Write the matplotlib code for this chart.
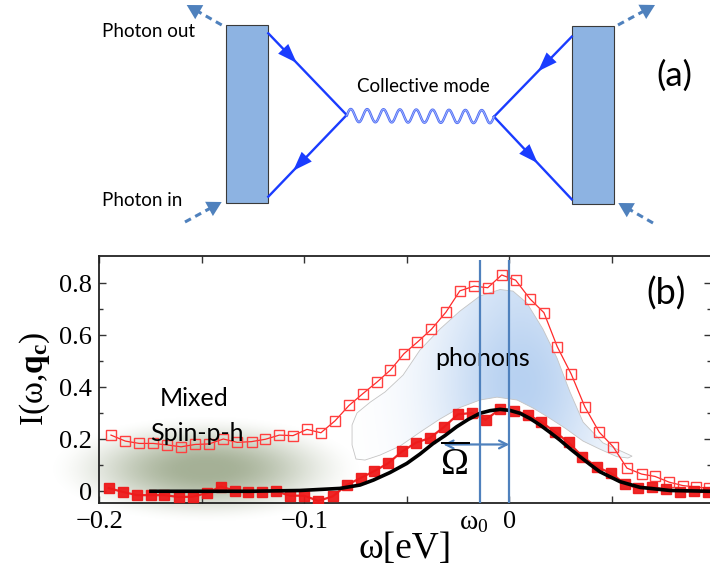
import numpy as np
import matplotlib
matplotlib.use("Agg")
import matplotlib.pyplot as plt
import matplotlib.transforms as mtransforms
from matplotlib.patches import Polygon, Rectangle, FancyArrowPatch

plt.rcParams['font.family'] = ['Liberation Serif', 'DejaVu Serif']
plt.rcParams['mathtext.fontset'] = 'custom'
plt.rcParams['mathtext.rm'] = 'Liberation Serif'
plt.rcParams['mathtext.it'] = 'Liberation Serif:italic'
plt.rcParams['mathtext.bf'] = 'Liberation Serif:bold'

SANS = 'Lato'
STEEL = '#4f81bd'
FERMION = '#1a3cff'

# ---- panel (b) values ----
omega_open = [-0.1943, -0.1873, -0.1805, -0.1737, -0.1668, -0.1601, -0.1533, -0.1465,
              -0.1395, -0.1327, -0.1257, -0.1190, -0.1122, -0.1055, -0.0987, -0.0919,
              -0.0850, -0.0782, -0.0715, -0.0647, -0.0580, -0.0514, -0.0448, -0.0380,
              -0.0309, -0.0241, -0.0172, -0.0105, -0.0037, 0.0031, 0.0101, 0.0169,
              0.0234, 0.0302, 0.0369, 0.0439, 0.0506, 0.0574, 0.0646, 0.0711,
              0.0780, 0.0846, 0.0911, 0.0972]
I_open = [0.216, 0.193, 0.184, 0.184, 0.178, 0.171, 0.180, 0.182,
          0.201, 0.188, 0.191, 0.200, 0.216, 0.214, 0.238, 0.225,
          0.271, 0.330, 0.375, 0.419, 0.466, 0.529, 0.574, 0.623,
          0.689, 0.771, 0.789, 0.783, 0.832, 0.812, 0.740, 0.687,
          0.556, 0.451, 0.324, 0.227, 0.172, 0.089, 0.066, 0.057,
          0.035, 0.022, 0.016, 0.012]

omega_filled = [-0.1954, -0.1883, -0.1816, -0.1749, -0.1682, -0.1613, -0.1544, -0.1475,
                -0.1407, -0.1338, -0.1273, -0.1208, -0.1139, -0.1070, -0.1000, -0.0932,
                -0.0862, -0.0793, -0.0725, -0.0658, -0.0592, -0.0523, -0.0455, -0.0387,
                -0.0319, -0.0250, -0.0183, -0.0116, -0.0045, 0.0021, 0.0089, 0.0157,
                0.0223, 0.0289, 0.0357, 0.0428, 0.0496, 0.0564, 0.0628, 0.0696,
                0.0764, 0.0834, 0.0901, 0.0967]
I_filled = [0.012, -0.003, -0.015, -0.015, -0.015, -0.022, -0.021, -0.007,
            0.018, 0.002, -0.004, -0.002, 0.000, -0.017, -0.017, -0.037,
            -0.020, 0.024, 0.051, 0.078, 0.107, 0.153, 0.187, 0.205,
            0.247, 0.296, 0.301, 0.275, 0.316, 0.310, 0.295, 0.266,
            0.228, 0.188, 0.133, 0.093, 0.070, 0.028, 0.012, 0.016,
            0.007, -0.001, 0.001, -0.004]

omega_fit = [-0.1748, -0.1509, -0.1265, -0.1021, -0.0826, -0.0728, -0.0663, -0.0582,
             -0.0500, -0.0436, -0.0371, -0.0314, -0.0257, -0.0201, -0.0143, -0.0094,
             -0.0045, 0.0003, 0.0052, 0.0101, 0.0150, 0.0198, 0.0247, 0.0296,
             0.0345, 0.0394, 0.0442, 0.0540, 0.0638, 0.0784, 0.0984]
I_fit = [0.0, 0.0, 0.0, 0.003, 0.011, 0.024, 0.043, 0.072,
         0.107, 0.143, 0.184, 0.214, 0.248, 0.276, 0.300, 0.310,
         0.315, 0.311, 0.300, 0.280, 0.255, 0.227, 0.197, 0.164,
         0.133, 0.103, 0.075, 0.037, 0.015, 0.003, 0.0]

omega_0 = -0.0142
omega_bar_left = -0.0322   # left end of the Omega-bar arrow
omega_bar_level = 0.18

# outline of the shaded "phonons" region
phonon_x = [-0.0748, -0.0767, -0.0767, -0.0743, -0.0678, -0.0606, -0.0518, -0.0436,
            -0.0338, -0.0241, -0.0143, -0.0045, 0.0018, 0.0086, 0.0164, 0.0233,
            0.0296, 0.0360, 0.0457, 0.0555, 0.0599, 0.0579, 0.0525, 0.0442,
            0.0360, 0.0272, 0.0189, 0.0116, 0.0038, -0.0060, -0.0143, -0.0241,
            -0.0338, -0.0421, -0.0533, -0.0631, -0.0704]
phonon_y = [0.124, 0.178, 0.255, 0.301, 0.343, 0.382, 0.447, 0.543,
            0.624, 0.693, 0.751, 0.776, 0.770, 0.724, 0.624, 0.512,
            0.382, 0.266, 0.186, 0.151, 0.135, 0.128, 0.133, 0.162,
            0.193, 0.243, 0.285, 0.320, 0.351, 0.362, 0.351, 0.322,
            0.278, 0.235, 0.174, 0.139, 0.120]

# blurred "Mixed Spin-p-h" blob: centre and half sizes
mixed_center = (-0.148, 0.085)
mixed_half = (0.078, 0.21)

XLIM = (-0.2, 0.0984)
YLIM = (-0.044, 0.905)

fig = plt.figure(figsize=(7.1, 5.71), dpi=100)

# ---------------- panel (a): diagram in pixel units ----------------
diag = fig.add_axes([0, 1 - 240 / 571, 1, 240 / 571])
diag.set_xlim(0, 710)
diag.set_ylim(240, 0)
diag.axis('off')

for x0, y0 in [(226, 25), (571.7, 25.7)]:
    diag.add_patch(Rectangle((x0, y0), 42.3, 178.3, fc='#8db3e2', ec='#3a3a3a',
                             lw=0.8, zorder=2))


def head(ax, tip, direction, color, scale=11, hl=1.0, hw=0.4):
    d = np.asarray(direction, float)
    d /= np.hypot(*d)
    tip = np.asarray(tip, float)
    arr = FancyArrowPatch(tip - d * 3, tip,
                          arrowstyle='-|>,head_length=%g,head_width=%g' % (hl, hw),
                          mutation_scale=scale, color=color, lw=0,
                          shrinkA=0, shrinkB=0, zorder=4)
    ax.add_patch(arr)


def fermion(ax, p0, p1, frac):
    p0 = np.asarray(p0, float)
    p1 = np.asarray(p1, float)
    ax.plot([p0[0], p1[0]], [p0[1], p1[1]], color=FERMION, lw=1.7, zorder=3)
    d = p1 - p0
    tip = p0 + d * frac + d / np.hypot(*d) * 7
    head(ax, tip, d, FERMION, scale=14, hl=1.0, hw=0.36)


fermion(diag, (268.3, 33.3), (346.7, 115), 0.30)
fermion(diag, (346.7, 115), (268.3, 196.7), 0.62)
fermion(diag, (571.7, 36.7), (494, 116.7), 0.37)
fermion(diag, (494, 116.7), (571.7, 199.3), 0.50)

# wavy boson line
t = np.linspace(0, 1, 600)
wx = 346.7 + t * (494 - 346.7)
wy = 115.5 + t * 1.2 - 6.5 * np.sin(2 * np.pi * 9 * t)
diag.plot(wx, wy, color='#4d6cf5', lw=1.8, zorder=3)
diag.plot(wx, wy, color='#b8c6ff', lw=0.5, zorder=3)

# dashed photon arrows
for tail, tip in [((221.7, 25), (186.7, 5)), ((185, 222), (221.7, 202)),
                  ((618, 25), (655, 5)), ((653, 223), (618.3, 203))]:
    tail = np.asarray(tail, float)
    tip = np.asarray(tip, float)
    d = tip - tail
    u = d / np.hypot(*d)
    end = tip - u * 6
    diag.plot([tail[0], end[0]], [tail[1], end[1]], color=STEEL, lw=2.2,
              ls=(0, (2.2, 1.6)), zorder=3)
    head(diag, tip, d, STEEL, scale=13, hl=0.8, hw=0.45)

diag.text(101.7, 31.7, 'Photon out', family=SANS, fontsize=13.5, va='center', ha='left')
diag.text(101.7, 200, 'Photon in', family=SANS, fontsize=13.5, va='center', ha='left')
diag.text(356.7, 86, 'Collective mode', family=SANS, fontsize=13.5, va='center', ha='left')
diag.text(656, 76, '(a)', family=SANS, fontsize=25, va='center', ha='left')

# ---------------- panel (b) ----------------
ax = fig.add_axes([99.3 / 710, 1 - 502.7 / 571, (711 - 99.3) / 710, 246.7 / 571])

# blurred green blob
gx, gy = np.meshgrid(np.linspace(-1, 1, 300), np.linspace(-1, 1, 200))
rr = np.sqrt(gx ** 2 + gy ** 2)
s = np.clip((rr - 0.1) / 0.9, 0, 1)
blob = np.zeros((200, 300, 4))
blob[..., :3] = (0.45, 0.52, 0.36)
blob[..., 3] = 0.64 * (1 - s * s * (3 - 2 * s))
cx, cy = mixed_center
hx, hy = mixed_half
ax.imshow(blob, extent=[cx - hx, cx + hx, cy - hy, cy + hy], aspect='auto',
          origin='lower', zorder=0.5, clip_on=False, interpolation='bilinear')

# shaded phonon region with a gradient fill
px0, px1 = min(phonon_x), max(phonon_x)
py0, py1 = min(phonon_y), max(phonon_y)
U, V = np.meshgrid(np.linspace(0, 1, 300), np.linspace(0, 1, 300))
grad = np.zeros((300, 300, 4))
grad[..., :3] = (0.64, 0.77, 0.93)
grad[..., 3] = 0.78 * np.exp(-((U - 0.6) / 0.3) ** 2) * (0.55 + 0.45 * np.exp(-((V - 0.45) / 0.45) ** 2))
im = ax.imshow(grad, extent=[px0, px1, py0, py1], aspect='auto', origin='lower',
               zorder=1, interpolation='bilinear')
poly = Polygon(np.column_stack([phonon_x, phonon_y]), closed=True, fc='none',
               ec='#c4c4c4', lw=0.6, zorder=1.1)
ax.add_patch(poly)
im.set_clip_path(poly)

ax.plot(omega_open, I_open, color='#ff2a2a', lw=0.9, marker='s', ms=6.5,
        mfc='none', mec='#ff4040', mew=1.0, zorder=3)
ax.plot(omega_filled, I_filled, color='#ee1a1a', lw=1.6, marker='s', ms=7.3,
        mfc='#ee1a1a', mec='#ee1a1a', zorder=3, alpha=0.95)
ax.plot(omega_fit, I_fit, color='black', lw=2.6, zorder=3.5)

for xv in (omega_0, 0.0):
    ax.plot([xv, xv], [YLIM[0], 0.889], color=STEEL, lw=1.6, zorder=4,
            solid_capstyle='butt')
ax.annotate('', xy=(omega_bar_left, omega_bar_level), xytext=(0.0, omega_bar_level),
            arrowprops=dict(arrowstyle='<->', color=STEEL, lw=1.6, shrinkA=0,
                            shrinkB=0, mutation_scale=14), zorder=4)
ax.text(-0.0265, 0.105, r'$\overline{\mathrm{Ω}}$', fontsize=27, ha='center',
        va='center', zorder=5)

ax.text(-0.0128, 0.512, 'phonons', family=SANS, fontsize=18, ha='center',
        va='center', zorder=2)
ax.text(-0.1537, 0.355, 'Mixed', family=SANS, fontsize=18, ha='center',
        va='center', zorder=5)
ax.text(-0.1523, 0.224, 'Spin-p-h', family=SANS, fontsize=18, ha='center',
        va='center', zorder=5)
ax.text(0.0765, 0.762, '(b)', family=SANS, fontsize=26, ha='center',
        va='center', zorder=5)

ax.set_xlim(*XLIM)
ax.set_ylim(*YLIM)
ax.set_xticks([-0.2, -0.15, -0.1, -0.05, 0.0, 0.05])
ax.set_xticklabels(['\u22120.2', '', '\u22120.1', '', '0', ''])
ax.set_yticks([0, 0.2, 0.4, 0.6, 0.8])
ax.set_yticklabels(['0', '0.2', '0.4', '0.6', '0.8'])
ax.set_yticks([0.1, 0.3, 0.5, 0.7], minor=True)
ax.tick_params(which='both', direction='in', top=True, right=True,
               labelsize=19, width=1.0, color='#333333')
ax.tick_params(which='major', length=5)
ax.tick_params(which='minor', length=3)
ax.tick_params(axis='x', pad=6)
ax.tick_params(axis='y', pad=5)
for sp in ax.spines.values():
    sp.set_linewidth(1.3)
    sp.set_color('#222222')

trans = mtransforms.blended_transform_factory(ax.transData, ax.transAxes)
ax.text(-0.0172, -0.107, r'$\mathrm{ω}_0$', transform=trans, fontsize=20,
        ha='center', va='baseline')

ax.set_xlabel('ω[eV]', fontsize=27)
ax.xaxis.set_label_coords(0.5, -0.115)
ax.set_ylabel(r'I(ω,$\mathbf{q}_\mathbf{c}$)', fontsize=24)
ax.yaxis.set_label_coords(-0.077, 0.5)

fig.savefig('out.png', dpi=100)
